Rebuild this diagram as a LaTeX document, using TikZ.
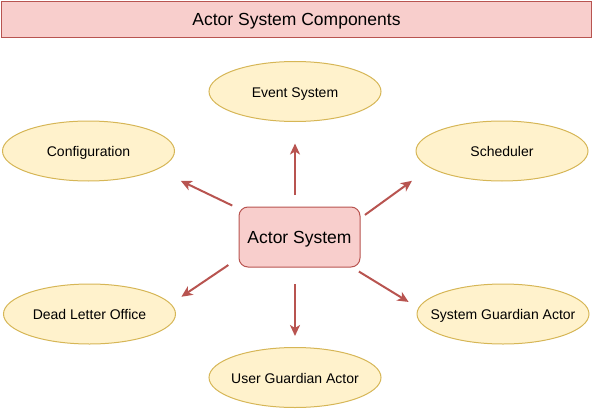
\documentclass[tikz,border=0pt]{standalone}
\usepackage{fontspec}
\setmainfont{Liberation Sans}
\usetikzlibrary{shapes.geometric,arrows.meta}
\definecolor{redfill}{HTML}{F8CECC}
\definecolor{redline}{HTML}{B85450}
\definecolor{yelfill}{HTML}{FFF2CC}
\definecolor{yelline}{HTML}{D6B656}
\begin{document}
\begin{tikzpicture}[x=1pt,y=-1pt,
  comp/.style={ellipse,draw=yelline,fill=yelfill,line width=1pt,minimum width=172pt,minimum height=60pt,
    inner sep=0pt,inner xsep=-30pt,outer sep=0pt,text height=11pt,text depth=0pt,font=\fontsize{14pt}{16pt}\selectfont},
  redbox/.style={draw=redline,fill=redfill,line width=1pt,inner sep=0pt,outer sep=0pt,
    text height=13pt,text depth=0pt,font=\fontsize{17.5pt}{20pt}\selectfont},
  arr/.style={draw=redline,line width=2pt,-{Stealth[length=11pt,width=10pt,inset=3pt]}}]
\useasboundingbox (0,0) rectangle (593,409);
\node[redbox,minimum width=590pt,minimum height=36pt] (title) at (296.5,19.5) {Actor System Components};
\node[redbox,rounded corners=9pt,minimum width=121pt,minimum height=60pt] (sys) at (299.5,237) {Actor System};
\foreach \n/\x/\y/\t in {evt/295/91.5/Event System,cfg/88.5/151/Configuration,sch/502/151/Scheduler,
  dlo/89.5/314/Dead Letter Office,sga/503/314/System Guardian Actor,uga/295/377.5/User Guardian Actor}{
	\node[comp] (\n) at (\x,\y) {\t};
	}
\draw[arr,shorten <=12pt,shorten >=22pt] (sys.north -| evt) -- (evt.south);
\draw[arr,shorten <=7.5pt,shorten >=26.7pt] (sys.155.5) -- (cfg.345.9);
\draw[arr,shorten <=6.1pt,shorten >=22.6pt] (sys.17.95) -- (sch.193.4);
\draw[arr,shorten <=12.85pt,shorten >=13pt] (sys.199.65) -- (dlo.7.07);
\draw[arr,shorten <=8.7pt,shorten >=11.8pt] (sys.330.6) -- (sga.176.7);
\draw[arr,shorten <=17pt,shorten >=11.5pt] (sys.south -| uga) -- (uga.north);
\end{tikzpicture}
\end{document}
